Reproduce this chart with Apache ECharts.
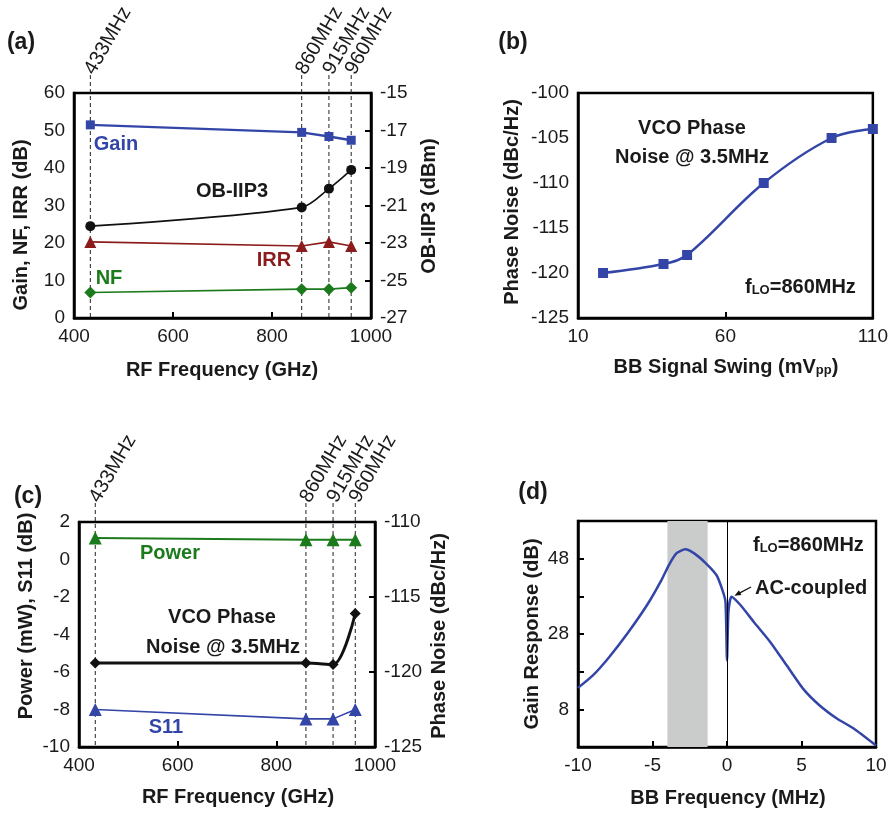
<!DOCTYPE html>
<html>
<head>
<meta charset="utf-8">
<script src="https://cdn.jsdelivr.net/npm/echarts@6/dist/echarts.min.js"></script>
<style>
  html, body { margin: 0; padding: 0; background: #fff; }
  #chart { width: 891px; height: 815px; }
</style>
</head>
<body>
<div id="chart"></div>
<script>
// ---- RF band measurements (panels a and c) ----
const rfFreqs = [433, 860, 915, 960];
const gainDb = [51.5, 49.5, 48.4, 47.4];
const nfDb = [6.8, 7.7, 7.7, 8.1];
const irrDb = [20.3, 19.2, 20.3, 19.2];
const obIip3Dbm = [-22.1, -21.1, -20.1, -19.1];
const powerMw = [1.15, 1.05, 1.05, 1.05];
const s11Db = [-8.0, -8.5, -8.5, -8.0];
const vcoPnRf = [-119.4, -119.4, -119.5, -116.1];

// ---- VCO phase noise vs baseband swing (panel b) ----
const bbSwing = [18.5, 39, 47, 73, 96, 110];
const vcoPnSwing = [-120, -119, -118, -110, -105, -104];

// ---- Baseband gain response (panel d) ----
const bbFreq = [-10, -9, -7.9, -6.6, -5.3, -4.4, -3.9, -3.4, -2.8, -2.2, -1.4, -0.7, -0.3, -0.1, 0, 0.1, 0.3, 0.9, 1.8, 2.9, 4.0, 5.1, 6.2, 7.4, 8.5, 10];
const gainResp = [13.7, 17.0, 21.9, 28.6, 36.1, 42.3, 46.3, 49.4, 50.5, 49.4, 46.7, 43.6, 39.6, 36.5, 21.0, 34.0, 37.9, 35.7, 31.2, 25.9, 19.7, 13.5, 9.1, 5.5, 2.9, -1.6];
const passBand = [-4, -1.3];
const gainTickLabels = [8, 28, 48];

// ---- Palette and fonts ----
const BLUE = '#3346a8', GREEN = '#1b7a1b', RED = '#8c1c1c', BLACK = '#111111', BAND = '#c9cccb';
const NARROW = '"Liberation Sans Narrow", "Liberation Sans", Arial, sans-serif';
const SANS = '"Liberation Sans", Arial, sans-serif';

const grids = [
  { left: 74, top: 93, width: 297, height: 225 },   // a
  { left: 578, top: 93, width: 297, height: 225 },  // b
  { left: 79, top: 522, width: 296, height: 225 },  // c
  { left: 578, top: 521, width: 298, height: 226 }  // d
];

const tickFont = { fontFamily: NARROW, fontSize: 19, color: '#1a1a1a' };
const plain = v => String(v);

function xAx(gi, min, max, interval) {
  return {
    type: 'value', gridIndex: gi, min, max, interval, position: 'bottom',
    axisLine: { show: true, onZero: false, lineStyle: { color: '#000', width: 2.5 } },
    axisTick: { show: true, inside: true, length: 6, lineStyle: { color: '#000', width: 2 } },
    axisLabel: Object.assign({ margin: 9, formatter: plain }, tickFont),
    splitLine: { show: false }
  };
}
function yAx(gi, min, max, interval, side, showTick, fmt) {
  return {
    type: 'value', gridIndex: gi, min, max, interval, position: side,
    axisLine: { show: true, onZero: false, lineStyle: { color: '#000', width: 2.5 } },
    axisTick: { show: showTick, inside: true, length: 6, lineStyle: { color: '#000', width: 2 } },
    axisLabel: Object.assign({ margin: 9, formatter: fmt || plain }, tickFont),
    splitLine: { show: false }
  };
}
const pairs = (xs, ys) => xs.map((x, i) => [x, ys[i]]);

function lineSeries(name, xi, yi, xs, ys, color, symbol, size, width, smooth) {
  return {
    name, type: 'line', xAxisIndex: xi, yAxisIndex: yi, data: pairs(xs, ys),
    symbol, symbolSize: size, showSymbol: symbol !== 'none',
    smooth: smooth || false,
    lineStyle: { color, width },
    itemStyle: { color, borderWidth: 0 },
    emphasis: { disabled: true }
  };
}

const chart = echarts.init(document.getElementById('chart'), null, { renderer: 'canvas' });

const option = {
  animation: false,
  backgroundColor: '#fff',
  textStyle: { fontFamily: SANS },
  grid: grids.map(g => Object.assign({ show: true, borderColor: '#000', borderWidth: 2.5, backgroundColor: 'transparent' }, g)),
  xAxis: [
    xAx(0, 400, 1000, 200),
    xAx(1, 10, 110, 50),
    xAx(2, 400, 1000, 200),
    xAx(3, -10, 10, 5)
  ],
  yAxis: [
    yAx(0, 0, 60, 10, 'left', false),
    yAx(0, -27, -15, 2, 'right', true),
    yAx(1, -125, -100, 5, 'left', false),
    yAx(2, -10, 2, 2, 'left', false),
    yAx(2, -125, -110, 5, 'right', true),
    yAx(3, -2, 58, 10, 'left', true, v => (gainTickLabels.indexOf(v) >= 0 ? String(v) : ''))
  ],
  series: [
    lineSeries('Gain', 0, 0, rfFreqs, gainDb, BLUE, 'rect', 9, 2.5),
    lineSeries('IRR', 0, 0, rfFreqs, irrDb, RED, 'triangle', 12, 1.6),
    lineSeries('NF', 0, 0, rfFreqs, nfDb, GREEN, 'diamond', 12, 1.6),
    lineSeries('OB-IIP3', 0, 1, rfFreqs, obIip3Dbm, BLACK, 'circle', 10, 1.6, 0.3),
    lineSeries('VCO PN vs swing', 1, 2, bbSwing, vcoPnSwing, BLUE, 'rect', 10, 2.5, 0.35),
    lineSeries('Power', 2, 3, rfFreqs, powerMw, GREEN, 'triangle', 13, 2),
    lineSeries('S11', 2, 3, rfFreqs, s11Db, BLUE, 'triangle', 13, 1.6),
    lineSeries('VCO PN', 2, 4, rfFreqs, vcoPnRf, BLACK, 'diamond', 11, 3, 0.3),
    Object.assign(lineSeries('Gain response', 3, 5, bbFreq, gainResp, BLUE, 'none', 0, 2.5, 0.2), {
      markArea: {
        silent: true,
        itemStyle: { color: BAND },
        data: [[{ xAxis: passBand[0] }, { xAxis: passBand[1] }]]
      },
      markLine: {
        silent: true, symbol: 'none', label: { show: false },
        lineStyle: { color: '#000', width: 1, type: 'solid' },
        data: [{ xAxis: 0 }]
      }
    })
  ]
};
chart.setOption(option);

// ---- Text, guide lines and annotations ----
function txt(text, x, y, o) {
  o = o || {};
  const style = {
    text, fill: o.color || '#1a1a1a',
    font: (o.weight || 'bold') + ' ' + (o.size || 20) + 'px ' + (o.family || SANS),
    align: o.align || 'center', verticalAlign: o.va || 'middle',
    textAlign: o.align || 'center', textVerticalAlign: o.va || 'middle'
  };
  if (o.rich) style.rich = o.rich;
  return { type: 'text', x, y, rotation: o.rot || 0, silent: true, style };
}
const V = Math.PI / 2;
const subRich = {
  n: { fontFamily: SANS, fontWeight: 'bold', fontSize: 20, fill: '#1a1a1a', verticalAlign: 'bottom', lineHeight: 24 },
  s: { fontFamily: SANS, fontWeight: 'bold', fontSize: 13, fill: '#1a1a1a', verticalAlign: 'bottom', lineHeight: 20 }
};

const graphics = [];
// panel tags
graphics.push(txt('(a)', 21, 43, { size: 23 }));
graphics.push(txt('(b)', 513, 43, { size: 23 }));
graphics.push(txt('(c)', 28, 497, { size: 23 }));
graphics.push(txt('(d)', 533, 493, { size: 23 }));

// axis titles
graphics.push(txt('Gain, NF, IRR (dB)', 21, 225, { rot: V }));
graphics.push(txt('OB-IIP3 (dBm)', 429, 206, { rot: V }));
graphics.push(txt('RF Frequency (GHz)', 222, 370));
graphics.push(txt('Phase Noise (dBc/Hz)', 512, 202, { rot: V }));
graphics.push(txt('{n|BB Signal Swing (mV}{s|pp}{n|)}', 726, 365, { rich: subRich }));
graphics.push(txt('Power (mW), S11 (dB)', 26, 616, { rot: V }));
graphics.push(txt('Phase Noise (dBc/Hz)', 439, 636, { rot: V }));
graphics.push(txt('RF Frequency (GHz)', 238, 797));
graphics.push(txt('Gain Response (dB)', 532, 634, { rot: V }));
graphics.push(txt('BB Frequency (MHz)', 728, 798));

// in-plot labels
graphics.push(txt('Gain', 116, 144, { color: BLUE }));
graphics.push(txt('OB-IIP3', 232, 191));
graphics.push(txt('IRR', 274, 260, { color: RED }));
graphics.push(txt('NF', 109, 278, { color: GREEN }));
graphics.push(txt('VCO Phase', 692, 128));
graphics.push(txt('Noise @ 3.5MHz', 692, 157));
graphics.push(txt('{n|f}{s|LO}{n|=860MHz}', 745, 285, { align: 'left', rich: subRich }));
graphics.push(txt('Power', 170, 553, { color: GREEN }));
graphics.push(txt('VCO Phase', 222, 617));
graphics.push(txt('Noise @ 3.5MHz', 223, 647));
graphics.push(txt('S11', 166, 727, { color: BLUE }));
graphics.push(txt('{n|f}{s|LO}{n|=860MHz}', 753, 543, { align: 'left', rich: subRich }));
graphics.push(txt('AC-coupled', 755, 588, { align: 'left' }));

// dashed frequency guides with slanted labels (panels a and c)
[[0, 0, 75], [2, 2, 503]].forEach(([xi, gi, topY]) => {
  const g = grids[gi];
  const bottom = g.top + g.height;
  rfFreqs.forEach(f => {
    const px = chart.convertToPixel({ xAxisIndex: xi }, f);
    graphics.push({
      type: 'line', silent: true,
      shape: { x1: px, y1: topY, x2: px, y2: bottom },
      style: { stroke: '#222', lineWidth: 1, lineDash: [4, 3] }
    });
    graphics.push(txt(f + 'MHz', px - 1, topY - 2, {
      weight: 'normal', size: 20, family: NARROW, align: 'left', rot: Math.PI / 3
    }));
  });
});

// arrow pointing at the AC-coupling notch recovery
const peakIdx = gainResp.indexOf(Math.max(...gainResp.slice(15)));
const tip = chart.convertToPixel({ gridIndex: 3 }, [bbFreq[peakIdx], gainResp[peakIdx]]);
const ax0 = 751, ay0 = 587, ax1 = tip[0] + 3, ay1 = tip[1] - 1;
const ang = Math.atan2(ay1 - ay0, ax1 - ax0);
graphics.push({
  type: 'line', silent: true,
  shape: { x1: ax0, y1: ay0, x2: ax1 + 5 * Math.cos(ang + Math.PI), y2: ay1 + 5 * Math.sin(ang + Math.PI) },
  style: { stroke: '#111', lineWidth: 1.3 }
});
graphics.push({
  type: 'polygon', silent: true,
  shape: {
    points: [
      [ax1, ay1],
      [ax1 - 7 * Math.cos(ang - 0.4), ay1 - 7 * Math.sin(ang - 0.4)],
      [ax1 - 7 * Math.cos(ang + 0.4), ay1 - 7 * Math.sin(ang + 0.4)]
    ]
  },
  style: { fill: '#111' }
});

chart.setOption({ graphic: { elements: graphics } });
</script>
</body>
</html>
